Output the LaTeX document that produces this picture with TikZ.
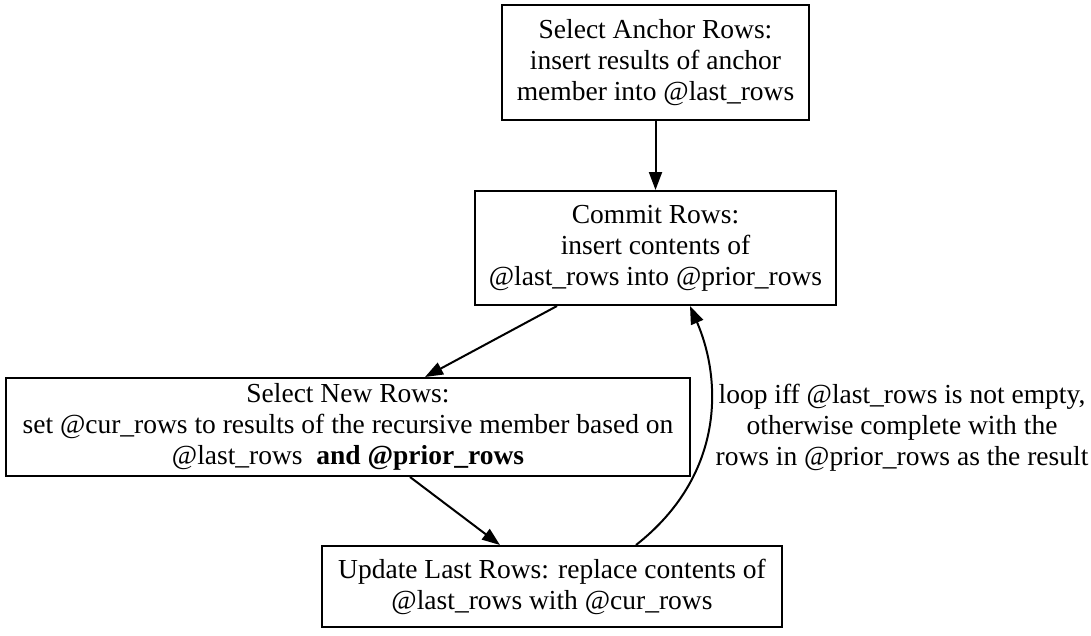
\documentclass[tikz,border=0pt]{standalone}
\usepackage{fontspec}
\setmainfont{Liberation Serif}
\usetikzlibrary{arrows.meta}
\begin{document}
\begin{tikzpicture}[x=1pt,y=-1pt,
  box/.style={draw,line width=2pt,inner sep=0pt,align=center,font=\fontsize{27.5}{31}\selectfont},
  arr/.style={line width=2pt,-{Triangle[length=18pt,width=13pt]}},
  lbl/.style={align=center,inner sep=0pt,font=\fontsize{27.5}{31}\selectfont}]
\useasboundingbox (0,0) rectangle (1091,635);
\node[box,minimum width=307pt,minimum height=115pt] (anchor) at (655.5,62.5)
  {Select Anchor Rows:\\insert results of anchor\\member into @last\_rows};
\node[box,minimum width=361pt,minimum height=114pt] (commit) at (655.5,248)
  {Commit Rows:\\ insert contents of\\@last\_rows into @prior\_rows};
\node[box,minimum width=684pt,minimum height=98pt] (sel) at (348,427)
  {Select New Rows:\\set @cur\_rows to results of the recursive member based on\\@last\_rows\ \ \textbf{and @prior\_rows}};
\node[box,minimum width=460pt,minimum height=81pt] (upd) at (552,586.5)
  {Update Last Rows: replace contents of\\@last\_rows with @cur\_rows};
\draw[arr] (anchor) -- (commit);
\draw[arr] ([xshift=-98.5pt]commit.south) -- ([xshift=77pt]sel.north);
\draw[arr] ([xshift=62pt]sel.south) -- ([xshift=-52pt]upd.north);
\draw[arr] ([xshift=84pt]upd.north) .. controls (725,475) and (722,380) .. ([xshift=34.5pt]commit.south);
\node[lbl] (looplbl) at (902,428) {loop iff @last\_rows is not empty,\\otherwise complete with the\\rows in @prior\_rows as the result};
\end{tikzpicture}
\end{document}
